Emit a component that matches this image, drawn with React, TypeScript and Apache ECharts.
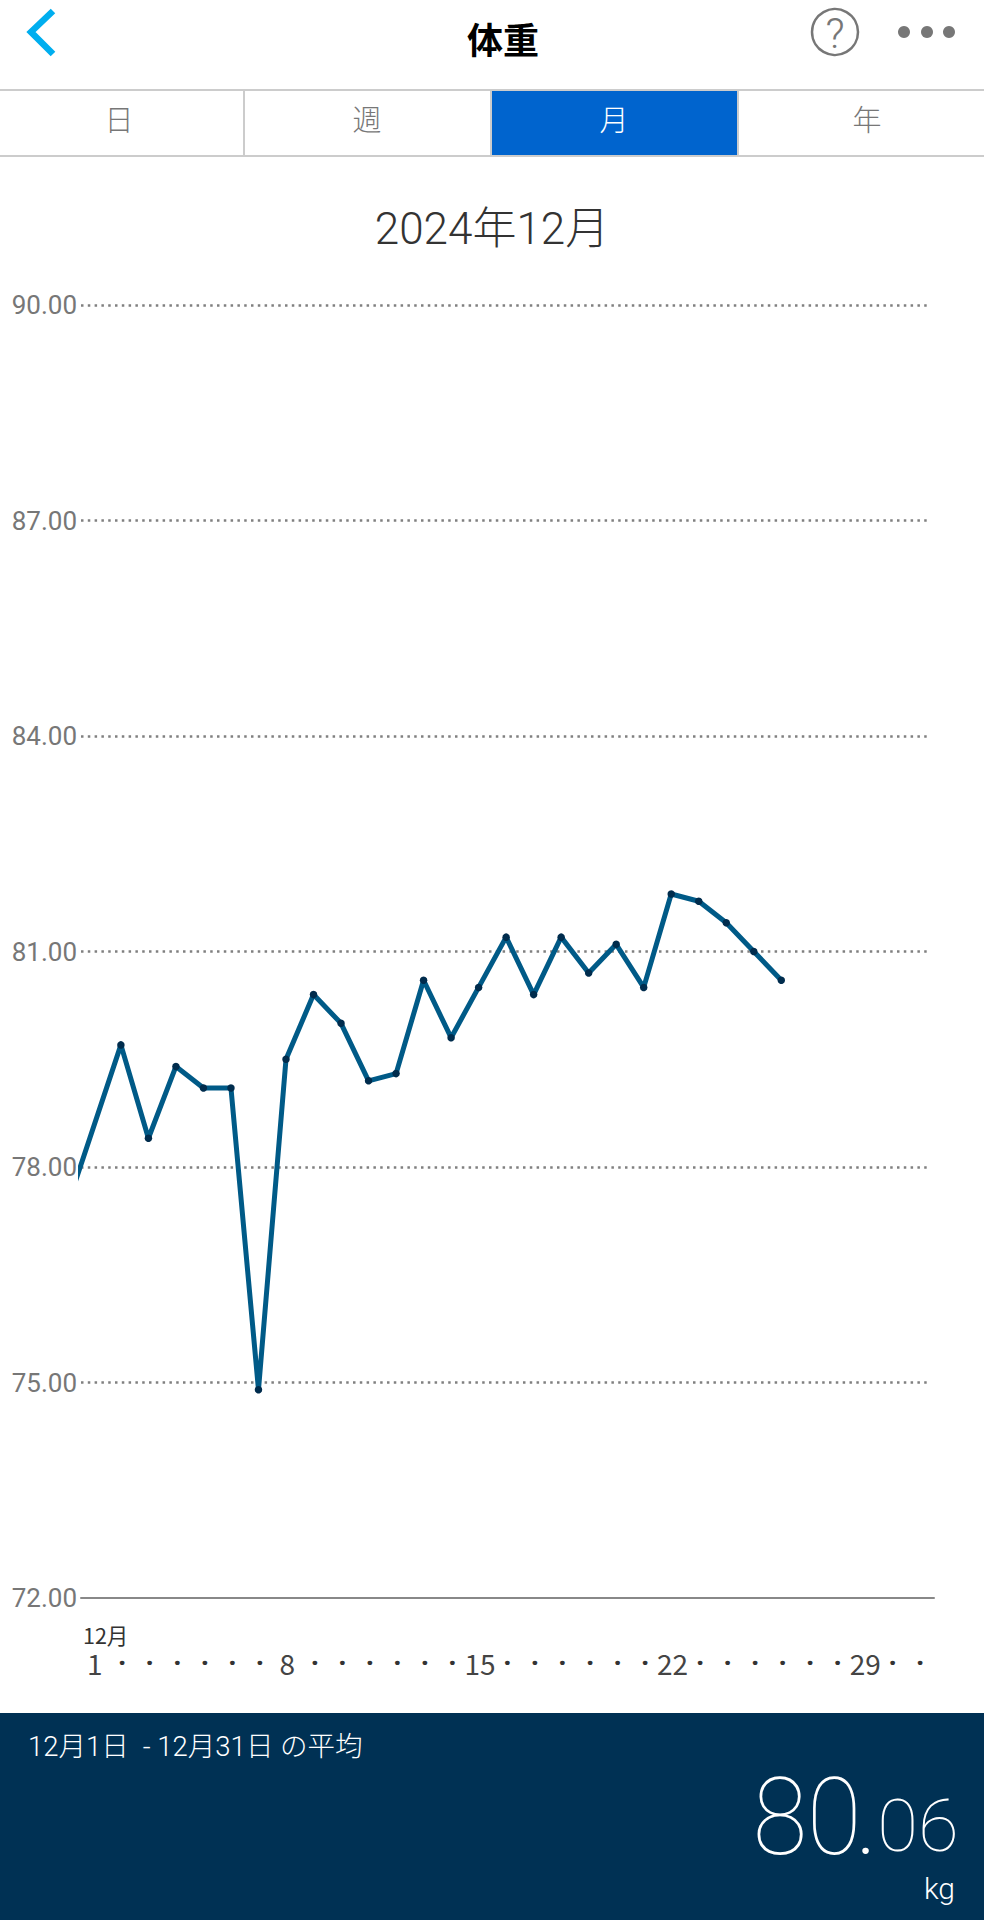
import React, { useEffect, useRef } from "react";
import * as echarts from "echarts";

const dayLabels = ["1","·","·","·","·","·","·","8","·","·","·","·","·","·","15","·","·","·","·","·","·","22","·","·","·","·","·","·","29","·","·"];
const days = [0,2,3,4,5,6,7,8,9,10,11,12,13,14,15,16,17,18,19,20,21,22,23,24,25,26];
const weights = [77.4,79.7,78.4,79.4,79.1,79.1,74.9,79.5,80.4,80.0,79.2,79.3,80.6,79.8,80.5,81.2,80.4,81.2,80.7,81.1,80.5,81.8,81.7,81.4,81.0,80.6];
const tabs = ["日","週","月","年"];
const yTicks = { min: 72, max: 90, interval: 3 };

const BASE = "Roboto,'Noto Sans CJK JP',sans-serif";
const NARROW = "'Liberation Sans Narrow','Noto Sans CJK JP',sans-serif";
const CJK = "'Noto Sans CJK JP',sans-serif";
const GREY = "#777777";

export default function App() {
  const ref = useRef<HTMLDivElement>(null);
  useEffect(() => {
    const chart = echarts.init(ref.current!, undefined, { renderer: "svg" });
    const tabX = [119, 367, 614, 867];
    const text = (t: string, x: number, y: number, fontSize: number, fill: string, extra: any = {}, pos: any = {}) => ({
      type: "text", x, y, ...pos,
      style: { text: t, fontSize, fill, fontFamily: BASE, fontWeight: 300, textAlign: "center", textVerticalAlign: "middle", ...extra },
    });
    const hline = (y: number) => ({ type: "line", shape: { x1: 0, y1: y, x2: 984, y2: y }, style: { stroke: "#cccccc", lineWidth: 2 } });
    const vline = (x: number) => ({ type: "line", shape: { x1: x, y1: 90, x2: x, y2: 156 }, style: { stroke: "#cccccc", lineWidth: 2 } });
    chart.setOption({
      animation: false,
      backgroundColor: "#ffffff",
      title: {
        text: "2024年12月", left: 487, top: 202, textAlign: "center",
        textStyle: { fontFamily: BASE, fontSize: 44, fontWeight: 300, color: "#333333" },
      },
      grid: { left: 81, right: 50, top: 305, bottom: 322, containLabel: false },
      xAxis: [
        { type: "value", min: 0.55, max: 31.55, show: false },
        {
          type: "category", data: dayLabels, boundaryGap: true, position: "bottom",
          axisLine: { show: true, lineStyle: { color: "#888888", width: 2 } },
          axisTick: { show: false }, splitLine: { show: false },
          axisLabel: {
            interval: 0, margin: 54, hideOverlap: false,
            formatter: (v: string) => (v === "·" ? "{d|·}" : "{n|" + v + "}"),
            rich: {
              n: { fontFamily: NARROW, fontSize: 28, color: "#444444", lineHeight: 22 },
              d: { fontFamily: "Roboto", fontSize: 26, fontWeight: 900, color: "#333333", lineHeight: 22 },
            },
          },
        },
      ],
      yAxis: {
        type: "value", ...yTicks,
        axisLine: { show: false }, axisTick: { show: false },
        axisLabel: { margin: 4, padding: [4, 0, 0, 0], fontFamily: BASE, fontSize: 26, fontWeight: 400, color: GREY, formatter: (v: number) => v.toFixed(2) },
        splitLine: { show: true, showMinLine: false, lineStyle: { color: "#808080", width: 2.5, type: [2.5, 4.3] } },
      },
      series: [{
        type: "line", xAxisIndex: 0, clip: true,
        data: days.map((d, i) => [d, weights[i]]),
        symbol: "circle", symbolSize: 7.5, showSymbol: true,
        lineStyle: { color: "#005a87", width: 5 },
        itemStyle: { color: "#002c4d" },
      }],
      graphic: [
        { type: "rect", z: 10, shape: { x: 930, y: 295, width: 6, height: 1295 }, style: { fill: "#ffffff" } },
        { type: "polyline", shape: { points: [[53, 11], [31, 32], [53, 54]] }, style: { stroke: "#00aeef", lineWidth: 6.5, fill: "none" } },
        text("体重", 503, 38, 36, "#000000", { fontFamily: CJK, fontWeight: 700 }),
        { type: "circle", shape: { cx: 835, cy: 32, r: 23 }, style: { stroke: GREY, lineWidth: 2.5, fill: "none" } },
        text("?", 835, 33, 42, GREY, { fontWeight: 300 }),
        ...[904, 927, 949].map((cx) => ({ type: "circle", shape: { cx, cy: 32, r: 6 }, style: { fill: GREY } })),
        hline(90), hline(156),
        { type: "rect", shape: { x: 492, y: 91, width: 245, height: 64 }, style: { fill: "#0064ce" } },
        vline(244), vline(491), vline(738),
        ...tabs.map((t, i) => text(t, tabX[i], 118, 29, i === 2 ? "#ffffff" : GREY, { fontFamily: CJK, fontWeight: 300 })),
        text("12月", 83, 1634, 21.5, "#333333", { fontFamily: NARROW, textAlign: "left", fontWeight: 400 }),
        { type: "rect", shape: { x: 0, y: 1713, width: 984, height: 207 }, style: { fill: "#003154" } },
        text("12月1日\u2002- 12月31日 の平均", 28, 1746, 27.5, "#ffffff", { textAlign: "left", fontWeight: 300 }),
        text("80", 807, 1817, 108, "#ffffff", { fontWeight: 100 }, { scaleX: 0.92 }),
        text(".", 866, 1827, 78, "#ffffff", { fontWeight: 300 }),
        text("06", 918, 1826, 73, "#ffffff", { fontWeight: 100 }, { scaleX: 1.02 }),
        text("kg", 955, 1888, 30, "#ffffff", { textAlign: "right", fontWeight: 300 }),
      ],
    });
    return () => chart.dispose();
  }, []);
  return <div ref={ref} style={{ position: "absolute", left: 0, top: 0, width: 984, height: 1920 }} />;
}
